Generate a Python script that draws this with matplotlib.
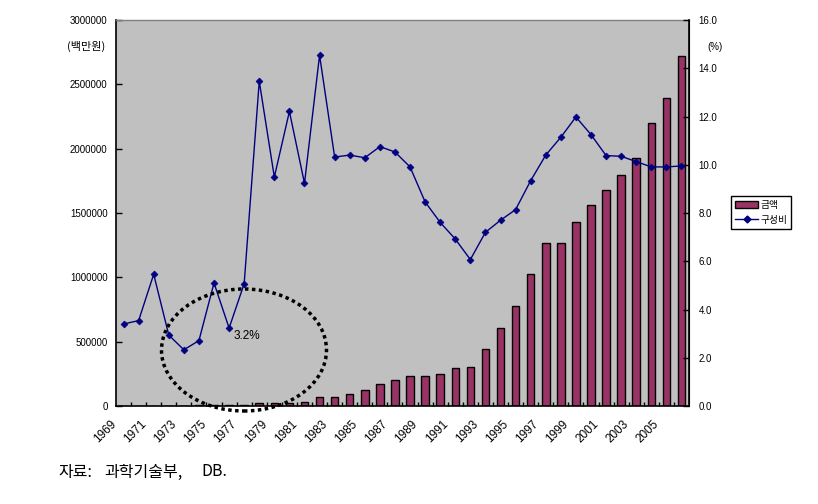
import matplotlib
matplotlib.use("Agg")
import matplotlib.pyplot as plt
from matplotlib.patches import Ellipse, Patch
from matplotlib.lines import Line2D
import matplotlib.transforms as mtransforms
import numpy as np

plt.rcParams['font.family'] = ['Liberation Sans', 'Noto Sans CJK KR', 'DejaVu Sans']

years = list(range(1969, 2007))
amount = [2000, 2500, 3000, 3000, 3500, 4000, 5000, 6000, 10000, 23000,
          23000, 23000, 29000, 70000, 70000, 91000, 122000, 168000, 200000, 231000,
          231000, 246000, 293000, 301000, 441000, 604000, 775000, 1023000, 1264000, 1264000,
          1428000, 1560000, 1676000, 1793000, 1925000, 2197000, 2391000, 2720000]
share = [3.40, 3.54, 5.46, 2.94, 2.33, 2.71, 5.10, 3.23, 5.07, 13.46,
         9.49, 12.21, 9.23, 14.54, 10.32, 10.40, 10.29, 10.75, 10.53, 9.91,
         8.46, 7.61, 6.92, 6.07, 7.20, 7.70, 8.14, 9.34, 10.40, 11.14,
         11.98, 11.25, 10.38, 10.35, 10.13, 9.91, 9.91, 9.95]
left_ticks = [0, 500000, 1000000, 1500000, 2000000, 2500000, 3000000]
right_ticks = [0, 2, 4, 6, 8, 10, 12, 14, 16]
label_years = [str(y) for y in range(1969, 2007, 2)]

W, H = 818, 504
fig = plt.figure(figsize=(W / 100, H / 100), dpi=100)
L, R, T, B = 116, 689, 20, 406
ax1 = fig.add_axes([L / W, 1 - B / H, (R - L) / W, (B - T) / H])
ax1.set_facecolor('#C0C0C0')
x = np.arange(len(years))
ax1.bar(x, amount, width=0.5, color='#993366', edgecolor='black', linewidth=1.0, zorder=2)
ax1.set_xlim(-0.5, len(years) - 0.5)
ax1.set_ylim(0, 3000000)
ax1.set_yticks(left_ticks)
ax1.set_yticklabels([str(v) for v in left_ticks], fontsize=7)
ax1.tick_params(axis='y', direction='in', length=4, width=1, pad=6)

ax1.set_xticks(np.arange(0, len(years), 2))
ax1.set_xticklabels(label_years, rotation=45, ha='right', va='top', fontsize=8.5)
ax1.set_xticks(np.arange(0.5, len(years) - 0.5, 1), minor=True)
ax1.tick_params(axis='x', which='major', length=0, pad=8.6)
ax1.tick_params(axis='x', which='minor', direction='in', length=3, width=1)
offset = mtransforms.ScaledTranslation(-5 / 100, 0, fig.dpi_scale_trans)
for lab in ax1.get_xticklabels():
    lab.set_transform(lab.get_transform() + offset)

for s in ['left', 'bottom']:
    ax1.spines[s].set_color('black')
    ax1.spines[s].set_linewidth(1.2)
ax1.spines['top'].set_color('#808080')
ax1.spines['top'].set_linewidth(1.0)

ax2 = ax1.twinx()
ax2.plot(x, share, color='#000080', linewidth=1.0, marker='D', markersize=3.5,
         markeredgewidth=0.5, zorder=3)
ax2.set_ylim(0, 16)
ax2.set_yticks(right_ticks)
ax2.set_yticklabels(['%.1f' % v for v in right_ticks], fontsize=7)
ax2.tick_params(axis='y', direction='in', length=4, width=1, pad=7)
ax2.spines['right'].set_color('black')
ax2.spines['right'].set_linewidth(1.2)
ax2.spines['top'].set_visible(False)
ax2.spines['left'].set_visible(False)
ax2.spines['bottom'].set_visible(False)

fig.text(86 / W, 1 - 46 / H, '(백만원)', fontsize=8, ha='center', va='center',
         family=['Noto Sans CJK KR'])
fig.text(715 / W, 1 - 47 / H, '(%)', fontsize=7, ha='center', va='center')

ell = Ellipse((244 / W, 1 - 350 / H), 165 / W, 122 / H, transform=fig.transFigure,
              fill=False, edgecolor='black', linewidth=2.5, linestyle=(0, (1, 1)),
              zorder=10)
fig.patches.append(ell)
fig.text(247 / W, 1 - 336 / H, '3.2%', fontsize=8.5, ha='center', va='center')

handles = [Patch(facecolor='#993366', edgecolor='black', linewidth=1.0),
           Line2D([], [], color='#000080', marker='D', markersize=3.5, linewidth=1.0)]
leg = fig.legend(handles, ['금액', '구성비'], loc='upper left',
                 bbox_to_anchor=(731 / W, 1 - 196 / H), bbox_transform=fig.transFigure,
                 frameon=True, fancybox=False, edgecolor='black',
                 framealpha=1, borderpad=0.4, handlelength=2.4, handletextpad=0.2,
                 labelspacing=0.5, borderaxespad=0,
                 prop={'family': ['Noto Sans CJK KR'], 'size': 7})
leg.get_frame().set_linewidth(1.0)

cap_kw = dict(fontsize=11.5, ha='left', va='center', family=['Noto Sans CJK KR'])
fig.text(58 / W, 1 - 472 / H, '자료:', **cap_kw)
fig.text(104 / W, 1 - 472 / H, '과학기술부,', **cap_kw)
fig.text(201 / W, 1 - 472 / H, 'DB.', **cap_kw)

fig.savefig('out.png', dpi=100)
